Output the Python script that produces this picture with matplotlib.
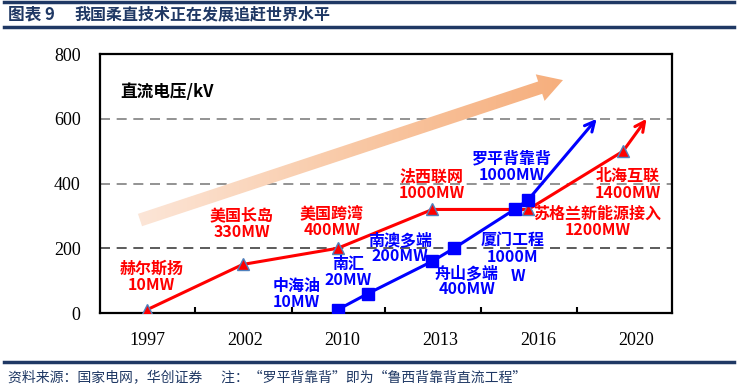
import numpy as np
import matplotlib
matplotlib.use('Agg')
import matplotlib.pyplot as plt
from matplotlib.lines import Line2D
from matplotlib.patches import Polygon
from matplotlib.colors import LinearSegmentedColormap

plt.rcParams['font.family'] = ['Noto Sans CJK SC', 'DejaVu Sans']

# ---- 数据 ----
years = ['1997', '2002', '2010', '2013', '2016', '2020']

# 红线：国外项目 (x 为类别位置, y 为直流电压 kV)
red_x = [0, 0.98, 1.95, 2.92, 3.90, 4.87]
red_y = [10, 150, 200, 320, 320, 500]
red_tip = (5.11, 600)

# 蓝线：国内项目
blue_x = [1.95, 2.26, 2.92, 3.14, 3.76, 3.90]
blue_y = [10, 60, 160, 200, 320, 350]
blue_tip = (4.60, 600)

red_labels = ['赫尔斯扬\n10MW', '美国长岛\n330MW', '美国跨湾\n400MW',
              '法西联网\n1000MW', '北海互联\n1400MW', '苏格兰新能源接入\n1200MW']
red_lab_x = [0.05, 0.97, 1.89, 2.91, 4.92, 4.61]
red_lab_y = [111, 275, 281, 395, 398, 281]

blue_labels = ['中海油\n10MW', '南汇\n20MW', '南澳多端\n200MW',
               '舟山多端\n400MW', '厦门工程\n1000M', 'W', '罗平背靠背\n1000MW']
blue_lab_x = [1.53, 2.06, 2.59, 3.27, 3.74, 3.80, 3.73]
blue_lab_y = [59, 127, 201, 99, 200, 114, 451]

RED = '#FF0000'
BLUE = '#0000FF'
NAVY = '#1F3864'

fig = plt.figure(figsize=(7.38, 3.87), dpi=100)
ax = fig.add_axes([0.1355, 0.1912, 0.775, 0.669])

ax.set_xlim(-0.48, 5.37)
ax.set_ylim(0, 800)

# 网格虚线
for yv, c in [(200, '#404040'), (400, '#808080'), (600, '#808080')]:
    ax.axhline(yv, color=c, linestyle=(0, (6, 4)), linewidth=1.2, zorder=1)

# 渐变大箭头（坐标轴像素空间中构造）
W, H = 572.0, 259.0
tail = np.array([40.0, 93.0])
tip = np.array([463.0, 233.0])
d = tip - tail
u = d / np.linalg.norm(d)
n = np.array([-u[1], u[0]])
hw, hhw, hl = 6.5, 14.0, 24.0
base = tip - u * hl
pts = [tail + n * hw, base + n * hw, base + n * hhw, tip,
       base - n * hhw, base - n * hw, tail - n * hw]
pts = [(p[0] / W, p[1] / H) for p in pts]
poly = Polygon(pts, closed=True, transform=ax.transAxes, facecolor='none',
               edgecolor='none')
ax.add_patch(poly)
cmap = LinearSegmentedColormap.from_list('peach', ['#FCE6D8', '#F9C9A6', '#F6AE7C'])
grad = np.linspace(0, 1, 256).reshape(1, -1)
im = ax.imshow(grad, cmap=cmap, extent=[0.06, 0.82, 0.3, 0.95], aspect='auto',
               transform=ax.transAxes, zorder=2)
im.set_clip_path(poly)

# 红线
ax.plot(red_x, red_y, color=RED, linewidth=2.2, marker='^', markersize=9,
        markerfacecolor=RED, markeredgecolor='#4F81BD', markeredgewidth=1.0, zorder=4)
ax.annotate('', xy=red_tip, xytext=(red_x[-1], red_y[-1]),
            arrowprops=dict(arrowstyle='->,head_length=0.7,head_width=0.35',
                            color=RED, lw=2.2, shrinkA=0, shrinkB=0), zorder=3)

# 蓝线
ax.plot(blue_x, blue_y, color=BLUE, linewidth=2.2, marker='s', markersize=8,
        markerfacecolor=BLUE, markeredgecolor=BLUE, zorder=4)
ax.annotate('', xy=blue_tip, xytext=(blue_x[-1], blue_y[-1]),
            arrowprops=dict(arrowstyle='->,head_length=0.7,head_width=0.35',
                            color=BLUE, lw=2.2, shrinkA=0, shrinkB=0), zorder=3)

# 标注文字
for t, x, y in zip(red_labels, red_lab_x, red_lab_y):
    ax.text(x, y, t, color=RED, fontsize=11.5, fontweight='bold', ha='center',
            va='center', linespacing=1.05, zorder=5)
for t, x, y in zip(blue_labels, blue_lab_x, blue_lab_y):
    ax.text(x, y, t, color=BLUE, fontsize=11.5, fontweight='bold', ha='center',
            va='center', linespacing=1.05, zorder=5)

ax.text(-0.27, 683, '直流电压/kV', color='black', fontsize=12, fontweight='bold',
        ha='left', va='center')

# 坐标轴
ax.set_xticks(range(len(years)))
ax.set_xticklabels(years)
ax.set_xticks([0.49, 1.48, 2.44, 3.42, 4.40], minor=True)
ax.set_yticks([0, 200, 400, 600, 800])
ax.tick_params(axis='both', which='major', length=0, labelsize=13, pad=14)
ax.tick_params(axis='x', which='minor', direction='in', length=4, width=1.5)
for lab in ax.get_xticklabels() + ax.get_yticklabels():
    lab.set_fontfamily('Liberation Serif')
for s in ax.spines.values():
    s.set_linewidth(1.6)
    s.set_color('black')

# 标题与页脚
fig.add_artist(Line2D([0.005, 0.995], [1 - 2 / 387, 1 - 2 / 387], color=NAVY,
                      linewidth=2.5, transform=fig.transFigure))
fig.add_artist(Line2D([0.005, 0.995], [1 - 27 / 387, 1 - 27 / 387], color=NAVY,
                      linewidth=2.5, transform=fig.transFigure))
fig.text(0.011, 1 - 14.5 / 387, '图表 9', color=NAVY,
         fontsize=12, fontweight='bold', ha='left', va='center')
fig.text(0.101, 1 - 14.5 / 387, '我国柔直技术正在发展追赶世界水平', color=NAVY,
         fontsize=11.5, fontweight='bold', ha='left', va='center')
fig.add_artist(Line2D([0.005, 0.995], [1 - 362 / 387, 1 - 362 / 387], color=NAVY,
                      linewidth=2.5, transform=fig.transFigure))
fig.text(0.011, 1 - 377 / 387,
         '资料来源：国家电网，华创证券      注：“罗平背靠背”即为“鲁西背靠背直流工程”',
         color='#1F3864', fontsize=10, ha='left', va='center')

fig.savefig('out.png', dpi=100)
